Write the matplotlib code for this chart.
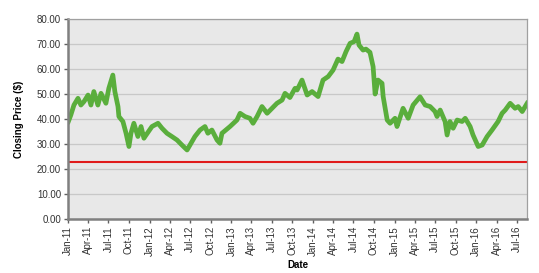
import matplotlib
matplotlib.use("Agg")
import matplotlib.pyplot as plt
import matplotlib.dates as mdates
import pandas as pd

# closing prices
dates = [
    "2011-01-03", "2011-01-14", "2011-01-28", "2011-02-15", "2011-02-28", "2011-03-14",
    "2011-04-01", "2011-04-14", "2011-04-27", "2011-05-15", "2011-05-29", "2011-06-20",
    "2011-07-03", "2011-07-21", "2011-07-30", "2011-08-13", "2011-08-17", "2011-09-04",
    "2011-09-18", "2011-10-01", "2011-10-10", "2011-10-23", "2011-11-10", "2011-11-24",
    "2011-12-07", "2011-12-12", "2012-01-12", "2012-02-08", "2012-02-26", "2012-03-19",
    "2012-04-10", "2012-05-03", "2012-05-25", "2012-06-17", "2012-06-30", "2012-07-22",
    "2012-08-14", "2012-09-05", "2012-09-18", "2012-10-06", "2012-10-29", "2012-11-11",
    "2012-11-20", "2012-12-26", "2013-01-26", "2013-02-09", "2013-03-03", "2013-03-25",
    "2013-04-08", "2013-04-26", "2013-05-18", "2013-06-10", "2013-07-02", "2013-07-24",
    "2013-08-16", "2013-08-29", "2013-09-20", "2013-10-13", "2013-10-22", "2013-11-13",
    "2013-12-06", "2013-12-28", "2014-01-24", "2014-02-15", "2014-03-10", "2014-04-01",
    "2014-04-23", "2014-05-11", "2014-05-29", "2014-06-16", "2014-07-04", "2014-07-17",
    "2014-07-26", "2014-08-13", "2014-08-26", "2014-09-13", "2014-09-27", "2014-10-06",
    "2014-10-19", "2014-11-06", "2014-11-11", "2014-11-29", "2014-12-12", "2015-01-03",
    "2015-01-12", "2015-02-08", "2015-03-03", "2015-03-25", "2015-04-25", "2015-05-18",
    "2015-06-09", "2015-07-01", "2015-07-10", "2015-07-24", "2015-08-15", "2015-08-24",
    "2015-09-06", "2015-09-20", "2015-10-08", "2015-10-30", "2015-11-13", "2015-12-05",
    "2015-12-18", "2016-01-10", "2016-01-28", "2016-02-19", "2016-03-12", "2016-04-08",
    "2016-04-26", "2016-05-10", "2016-06-01", "2016-06-23", "2016-07-07", "2016-07-25",
    "2016-08-16",
]
prices = [
    39.0, 41.6, 45.6, 48.3, 45.6, 47.0,
    49.6, 45.6, 51.0, 45.6, 50.3, 46.3,
    52.3, 57.6, 51.0, 45.0, 41.0, 39.0,
    34.3, 29.0, 34.3, 38.3, 33.0, 37.0,
    32.3, 33.0, 37.0, 38.3, 36.3, 34.3,
    33.0, 31.6, 29.6, 27.6, 29.6, 33.0,
    35.6, 37.0, 34.3, 35.6, 31.6, 30.3,
    34.3, 37.0, 39.6, 42.3, 41.0, 40.3,
    38.3, 41.0, 45.0, 42.3, 44.3, 46.3,
    47.6, 50.3, 48.6, 52.3, 51.6, 55.6,
    49.6, 51.0, 49.0, 55.6, 57.0, 59.6,
    64.0, 63.0, 67.0, 70.3, 71.0, 74.0,
    69.6, 67.6, 68.0, 66.7, 61.0, 50.0,
    55.6, 54.3, 49.0, 39.6, 38.3, 40.3,
    37.0, 44.3, 40.3, 45.6, 48.9, 45.6,
    45.0, 43.0, 41.0, 43.6, 39.0, 33.6,
    39.0, 36.3, 39.6, 39.0, 40.3, 37.0,
    33.6, 29.0, 29.6, 33.0, 35.6, 39.0,
    42.3, 43.6, 46.3, 44.3, 45.0, 43.0,
    46.3,
]
threshold = 22.8

plt.rcParams['font.family'] = ['Liberation Sans', 'DejaVu Sans']

x = pd.to_datetime(dates)

fig = plt.figure(figsize=(5.39, 2.73), dpi=100)
ax = fig.add_axes([0.126, 0.198, 0.852, 0.732])
ax.set_facecolor('#e8e8e8')

ax.plot(x, prices, color='#5aae3c', linewidth=3.4, solid_joinstyle='round')
ax.axhline(threshold, color='#e01b1b', linewidth=1.5)

ax.set_ylim(0, 80)
ax.set_yticks(range(0, 81, 10))
ax.yaxis.set_major_formatter(plt.FuncFormatter(lambda v, p: f"{v:.2f}"))
ax.set_xlim(pd.Timestamp("2011-01-01"), pd.Timestamp("2016-08-16"))
ax.xaxis.set_major_locator(mdates.MonthLocator(bymonth=[1, 4, 7, 10]))
ax.xaxis.set_major_formatter(mdates.DateFormatter("%b-%y"))
plt.setp(ax.get_xticklabels(), rotation=90)

ax.grid(axis='y', color='#c8c8c8', linewidth=0.9)
ax.set_axisbelow(True)
ax.tick_params(labelsize=7, colors='#333333', length=3, width=1, pad=2)
ax.tick_params(axis='both', color='#606060')

for side in ['left', 'bottom']:
    ax.spines[side].set_color('#808080')
    ax.spines[side].set_linewidth(1.8)
for side in ['top', 'right']:
    ax.spines[side].set_color('#a0a0a0')
    ax.spines[side].set_linewidth(0.9)

ax.set_xlabel('Date', fontsize=7, fontweight='bold', labelpad=3)
ax.set_ylabel('Closing Price ($)', fontsize=7, fontweight='bold', labelpad=9)

fig.savefig('out.png', dpi=100)
